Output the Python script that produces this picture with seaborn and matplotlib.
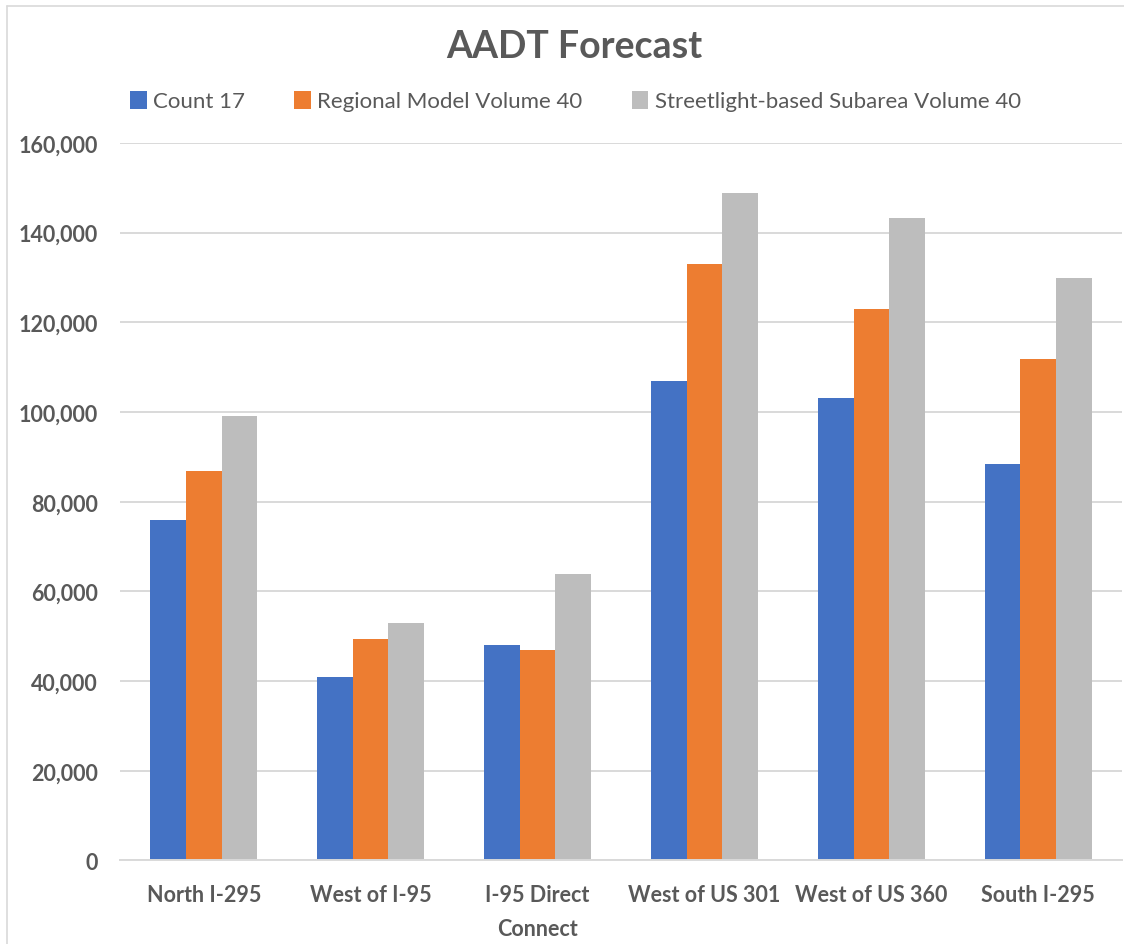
import matplotlib
matplotlib.use("Agg")
import matplotlib.pyplot as plt
import matplotlib.ticker as mticker
from matplotlib.patches import Patch
from matplotlib.lines import Line2D
import seaborn as sns
import pandas as pd

# Corridor locations along the x axis
locations = ["North I-295", "West of I-95", "I-95 Direct\nConnect",
             "West of US 301", "West of US 360", "South I-295"]

# Annual average daily traffic per series
count_17 = [76000, 40900, 48000, 107000, 103200, 88400]
regional_40 = [86900, 49300, 46900, 133000, 122900, 111900]
streetlight_40 = [99200, 52900, 63800, 148900, 143300, 130000]

series_names = ["Count 17", "Regional Model Volume 40",
                "Streetlight-based Subarea Volume 40"]
y_ticks = [0, 20000, 40000, 60000, 80000, 100000, 120000, 140000, 160000]

palette = ["#4472C4", "#ED7D31", "#BDBDBD"]
text_color = "#595959"
grid_color = "#D9D9D9"

rows = []
for name, vals in zip(series_names, [count_17, regional_40, streetlight_40]):
    for loc, v in zip(locations, vals):
        rows.append({"Location": loc, "Series": name, "AADT": v})
df = pd.DataFrame(rows)

sns.set_theme(style="white")
plt.rcParams["font.family"] = ["Lato", "DejaVu Sans"]

fig = plt.figure(figsize=(11.24, 9.45), dpi=100)
ax = fig.add_axes([0.107, 0.0884, 0.891, 0.7592])

sns.barplot(data=df, x="Location", y="AADT", hue="Series", order=locations,
            hue_order=series_names, palette=palette, width=0.64, gap=0,
            saturation=1, linewidth=0, ax=ax, legend=False)

ax.set_ylim(0, 160000)
ax.set_yticks(y_ticks)
ax.yaxis.set_major_formatter(mticker.StrMethodFormatter("{x:,.0f}"))
ax.set_xlim(-0.5, len(locations) - 0.5)
ax.set_xlabel("")
ax.set_ylabel("")
ax.grid(axis="y", color=grid_color, linewidth=1.4)
ax.set_axisbelow(True)
for side in ["top", "right", "left"]:
    ax.spines[side].set_visible(False)
ax.spines["bottom"].set_color(grid_color)
ax.spines["bottom"].set_linewidth(1.4)
ax.tick_params(axis="both", length=0, colors=text_color, labelsize=15.5)
ax.tick_params(axis="y", pad=16)
ax.tick_params(axis="x", pad=17)
for lbl in ax.get_xticklabels() + ax.get_yticklabels():
    lbl.set_fontweight("bold")
    lbl.set_color(text_color)
for lbl in ax.get_xticklabels():
    lbl.set_linespacing(1.75)

fig.text(0.511, 0.950, "AADT Forecast", ha="center", va="center",
         fontsize=27, fontweight="bold", color=text_color)

handles = [Patch(facecolor=c, edgecolor="none") for c in palette]
fig.legend(handles, series_names, loc="center", bbox_to_anchor=(0.512, 0.892),
           ncol=3, frameon=False, fontsize=16, handlelength=0.75,
           handleheight=0.85, handletextpad=0.3, columnspacing=2.2,
           labelcolor=text_color)

# light chart-area border
fig.add_artist(Line2D([0.006, 1.0], [0.9926, 0.9926], color=grid_color,
                      linewidth=1.2, transform=fig.transFigure))
fig.add_artist(Line2D([0.006, 0.006], [0.0, 0.9926], color=grid_color,
                      linewidth=1.2, transform=fig.transFigure))

fig.savefig("out.png", dpi=100, facecolor="white")
